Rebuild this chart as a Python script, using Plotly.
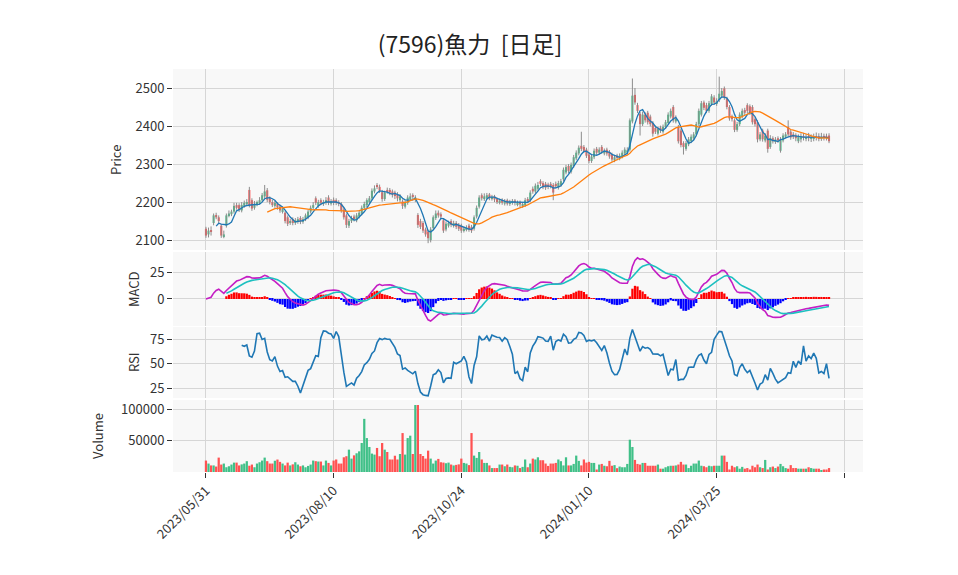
import numpy as np
import pandas as pd
import plotly.graph_objects as go
from plotly.subplots import make_subplots

title_text = "(7596)魚力\u00a0\u00a0[日足]"
tick_positions = [0, 50, 100, 150, 200, 250]
tick_labels = ["2023/05/31", "2023/08/10", "2023/10/24", "2024/01/10", "2024/03/25", ""]
panel_titles = ["Price", "MACD", "RSI", "Volume"]

opens = [
    2130, 2115, 2126, 2145, 2166, 2160, 2138, 2110, 2138, 2165,
    2168, 2175, 2192, 2192, 2178, 2190, 2195, 2232, 2205, 2185,
    2195, 2198, 2205, 2215, 2231, 2210, 2200, 2190, 2196, 2188,
    2174, 2172, 2160, 2145, 2155, 2145, 2148, 2158, 2148, 2155,
    2160, 2175, 2185, 2210, 2190, 2205, 2195, 2198, 2212, 2196,
    2206, 2205, 2200, 2195, 2180, 2165, 2138, 2150, 2162, 2152,
    2162, 2170, 2185, 2192, 2200, 2210, 2228, 2245, 2240, 2226,
    2208, 2232, 2232, 2228, 2225, 2220, 2205, 2202, 2188, 2198,
    2208, 2218, 2206, 2166, 2150, 2145, 2128, 2122, 2100, 2132,
    2158, 2172, 2168, 2152, 2128, 2138, 2150, 2138, 2145, 2140,
    2138, 2125, 2128, 2138, 2135, 2130, 2162, 2188, 2218, 2208,
    2210, 2220, 2208, 2215, 2208, 2198, 2206, 2196, 2205, 2195,
    2198, 2204, 2194, 2200, 2190, 2192, 2208, 2205, 2235, 2228,
    2235, 2255, 2250, 2248, 2246, 2248, 2245, 2248, 2238, 2245,
    2260, 2278, 2295, 2280, 2295, 2315, 2328, 2348, 2345, 2338,
    2325, 2308, 2318, 2340, 2330, 2345, 2328, 2338, 2332, 2325,
    2310, 2322, 2315, 2320, 2328, 2330, 2338, 2412, 2482, 2455,
    2432, 2405, 2430, 2435, 2425, 2408, 2395, 2380, 2396, 2385,
    2398, 2408, 2425, 2450, 2412, 2398, 2388, 2355, 2340, 2352,
    2360, 2368, 2378, 2405, 2430, 2462, 2455, 2440, 2458, 2475,
    2458, 2468, 2480, 2499, 2472, 2450, 2425, 2415, 2390, 2405,
    2425, 2442, 2455, 2452, 2450, 2418, 2410, 2365, 2388, 2362,
    2388, 2345, 2368, 2358, 2368, 2335, 2362, 2372, 2398, 2385,
    2378, 2375, 2360, 2365, 2374, 2368, 2374, 2366, 2368, 2373,
    2373, 2367, 2374, 2374, 2375,
]
highs = [
    2135, 2133, 2136, 2170, 2172, 2165, 2142, 2125, 2170, 2178,
    2180, 2198, 2198, 2197, 2200, 2204, 2208, 2240, 2210, 2203,
    2204, 2213, 2224, 2245, 2237, 2215, 2206, 2203, 2200, 2193,
    2188, 2176, 2165, 2156, 2160, 2158, 2161, 2163, 2161, 2170,
    2180, 2191, 2200, 2215, 2206, 2210, 2206, 2213, 2218, 2208,
    2212, 2210, 2205, 2200, 2185, 2170, 2156, 2164, 2167, 2171,
    2178, 2191, 2201, 2210, 2216, 2236, 2244, 2250, 2246, 2232,
    2230, 2238, 2237, 2233, 2230, 2226, 2221, 2207, 2204, 2218,
    2223, 2223, 2218, 2171, 2156, 2150, 2133, 2127, 2134, 2165,
    2178, 2178, 2173, 2157, 2149, 2151, 2155, 2151, 2150, 2145,
    2143, 2136, 2139, 2143, 2140, 2165, 2191, 2218, 2223, 2223,
    2224, 2224, 2219, 2219, 2212, 2209, 2210, 2208, 2209, 2206,
    2208, 2208, 2204, 2204, 2200, 2211, 2213, 2231, 2241, 2249,
    2253, 2260, 2255, 2253, 2251, 2253, 2250, 2254, 2256, 2261,
    2291, 2298, 2300, 2304, 2324, 2336, 2349, 2385, 2350, 2343,
    2330, 2326, 2341, 2345, 2344, 2350, 2341, 2343, 2337, 2330,
    2324, 2327, 2328, 2336, 2344, 2344, 2420, 2525, 2500, 2461,
    2437, 2438, 2436, 2440, 2430, 2413, 2401, 2398, 2401, 2404,
    2416, 2436, 2446, 2455, 2428, 2403, 2393, 2360, 2361, 2371,
    2378, 2384, 2411, 2446, 2466, 2467, 2461, 2466, 2484, 2481,
    2473, 2530, 2500, 2504, 2477, 2455, 2430, 2420, 2411, 2436,
    2446, 2448, 2460, 2457, 2455, 2423, 2415, 2384, 2393, 2381,
    2393, 2376, 2373, 2371, 2373, 2371, 2381, 2384, 2415, 2390,
    2384, 2381, 2378, 2381, 2382, 2379, 2382, 2378, 2380, 2383,
    2381, 2382, 2380, 2380, 2381,
]
lows = [
    2106, 2107, 2112, 2139, 2155, 2144, 2106, 2105, 2133, 2160,
    2163, 2170, 2180, 2174, 2173, 2185, 2190, 2186, 2177, 2180,
    2189, 2193, 2200, 2210, 2200, 2194, 2187, 2185, 2180, 2172,
    2170, 2144, 2137, 2140, 2139, 2140, 2143, 2142, 2143, 2150,
    2155, 2170, 2180, 2192, 2185, 2192, 2190, 2193, 2192, 2191,
    2192, 2192, 2189, 2172, 2154, 2132, 2132, 2145, 2149, 2147,
    2157, 2165, 2180, 2187, 2195, 2205, 2223, 2234, 2224, 2201,
    2203, 2222, 2218, 2212, 2208, 2202, 2200, 2182, 2183, 2193,
    2203, 2208, 2200, 2132, 2129, 2119, 2109, 2092, 2094, 2127,
    2153, 2159, 2156, 2119, 2123, 2133, 2134, 2133, 2129, 2124,
    2119, 2120, 2123, 2122, 2119, 2125, 2157, 2183, 2204, 2203,
    2206, 2205, 2204, 2200, 2195, 2194, 2193, 2191, 2191, 2190,
    2193, 2191, 2189, 2187, 2185, 2187, 2197, 2200, 2222, 2223,
    2230, 2242, 2234, 2232, 2234, 2236, 2205, 2236, 2233, 2240,
    2255, 2273, 2276, 2275, 2290, 2310, 2323, 2334, 2329, 2316,
    2302, 2303, 2313, 2324, 2325, 2327, 2323, 2322, 2314, 2306,
    2305, 2310, 2310, 2315, 2323, 2325, 2333, 2407, 2456, 2434,
    2375, 2400, 2409, 2404, 2399, 2372, 2379, 2375, 2382, 2380,
    2393, 2403, 2420, 2409, 2407, 2354, 2344, 2325, 2335, 2347,
    2355, 2363, 2373, 2400, 2425, 2442, 2434, 2435, 2453, 2456,
    2453, 2463, 2475, 2469, 2444, 2414, 2412, 2384, 2385, 2400,
    2420, 2429, 2434, 2429, 2404, 2399, 2357, 2360, 2359, 2357,
    2330, 2340, 2354, 2353, 2356, 2330, 2357, 2367, 2372, 2364,
    2366, 2360, 2355, 2357, 2362, 2360, 2360, 2358, 2360, 2362,
    2360, 2361, 2362, 2362, 2355,
]
closes = [
    2112, 2125, 2122, 2165, 2160, 2150, 2112, 2115, 2165, 2170,
    2175, 2190, 2185, 2180, 2192, 2198, 2200, 2192, 2183, 2195,
    2198, 2205, 2218, 2228, 2206, 2200, 2192, 2198, 2186, 2178,
    2182, 2150, 2143, 2150, 2145, 2152, 2155, 2148, 2155, 2165,
    2175, 2185, 2192, 2198, 2200, 2198, 2200, 2205, 2198, 2202,
    2198, 2198, 2195, 2178, 2160, 2140, 2150, 2158, 2155, 2165,
    2172, 2185, 2195, 2205, 2210, 2230, 2236, 2240, 2230, 2208,
    2225, 2228, 2225, 2220, 2216, 2210, 2215, 2190, 2198, 2212,
    2215, 2214, 2212, 2140, 2135, 2125, 2115, 2105, 2128, 2160,
    2170, 2165, 2162, 2125, 2143, 2145, 2140, 2145, 2135, 2130,
    2125, 2130, 2133, 2128, 2125, 2160, 2185, 2212, 2210, 2215,
    2218, 2210, 2214, 2207, 2200, 2204, 2198, 2203, 2196, 2200,
    2203, 2198, 2199, 2194, 2195, 2205, 2203, 2225, 2228, 2243,
    2245, 2248, 2240, 2238, 2240, 2242, 2225, 2242, 2250, 2255,
    2285, 2292, 2282, 2298, 2318, 2330, 2343, 2340, 2335, 2322,
    2308, 2320, 2335, 2330, 2338, 2333, 2335, 2328, 2320, 2312,
    2318, 2316, 2322, 2330, 2338, 2336, 2415, 2480, 2462, 2440,
    2405, 2430, 2415, 2410, 2405, 2380, 2385, 2392, 2388, 2398,
    2410, 2430, 2440, 2415, 2420, 2360, 2350, 2345, 2355, 2365,
    2372, 2378, 2405, 2440, 2460, 2448, 2440, 2460, 2478, 2462,
    2465, 2485, 2492, 2475, 2450, 2420, 2418, 2390, 2405, 2430,
    2440, 2435, 2440, 2435, 2410, 2405, 2365, 2378, 2365, 2375,
    2340, 2368, 2360, 2365, 2362, 2365, 2375, 2378, 2378, 2370,
    2372, 2368, 2372, 2373, 2370, 2371, 2368, 2370, 2372, 2370,
    2368, 2372, 2370, 2370, 2360,
]
volumes = [
    18250, 13500, 10500, 10500, 8700, 23000, 11900, 13500, 7600, 9200,
    11900, 15000, 15000, 10500, 12200, 13500, 17300, 10000, 11900, 7600,
    13500, 15600, 18250, 23000, 17300, 13500, 13500, 18000, 19900, 16200,
    13500, 10500, 15000, 10500, 12200, 15600, 11900, 9200, 10500, 7600,
    9700, 11900, 18250, 17300, 16700, 16700, 10500, 18250, 14500, 10500,
    18250, 20000, 13500, 13500, 23500, 25200, 35700, 21400, 26600, 29900,
    33000, 46300, 84900, 54200, 40000, 29400, 27800, 38400, 25200, 46300,
    35700, 32000, 20000, 20000, 26000, 20000, 28800, 62200, 27800, 54200,
    58000, 28800, 107000, 107000, 28800, 25600, 21400, 34100, 21400, 13500,
    18250, 20900, 15600, 15000, 14000, 15000, 11900, 10500, 11400, 12200,
    21400, 14500, 13500, 11000, 62200, 26200, 22500, 32000, 20000, 14500,
    14500, 10500, 6300, 6300, 6300, 11900, 11900, 9200, 11900, 8200,
    7600, 10500, 10000, 6300, 8200, 20000, 7600, 13500, 21400, 20000,
    23500, 18800, 18800, 13500, 9700, 13500, 13500, 14500, 20000, 17300,
    10500, 23500, 10500, 10500, 12900, 26200, 17800, 10500, 20000, 15000,
    16200, 14500, 14500, 4000, 11900, 12900, 10000, 9200, 17800, 10000,
    11000, 6100, 8700, 7600, 7600, 12900, 51600, 40000, 19300, 12900,
    11900, 14500, 14500, 10000, 10000, 10000, 10000, 11900, 5300, 5300,
    7600, 9200, 10000, 10000, 10500, 11900, 16200, 11900, 11900, 6300,
    10000, 13500, 13500, 18250, 10000, 9200, 7600, 10000, 9200, 10000,
    10000, 10000, 26200, 26200, 16200, 4000, 10000, 7600, 9200, 5300,
    8200, 5300, 6300, 4000, 10000, 7600, 11900, 7600, 6300, 19300,
    4000, 7600, 8700, 6300, 8700, 12900, 9200, 6300, 5300, 11000,
    6300, 6300, 5300, 5300, 5300, 5300, 7600, 6300, 5300, 5300,
    5300, 2700, 4000, 4000, 6300,
]

UP = "#40c088"
DOWN = "#ff5252"
WICK = "#8c8c8c"
GRID = "#d6d6d6"
TXT = "#333333"
FONT = "Noto Sans CJK JP"

n = len(closes)
xi = np.arange(n)
c = pd.Series(closes, dtype=float)
ma5 = c.rolling(5).mean()
ma25 = c.rolling(25).mean()
ema12 = c.ewm(span=12, adjust=False).mean()
ema26 = c.ewm(span=26, adjust=False).mean()
macd = ema12 - ema26
signal = macd.ewm(span=9, adjust=False, min_periods=9).mean()
hist = macd - signal
delta = c.diff()
gain = delta.clip(lower=0).rolling(14).mean()
loss = (-delta.clip(upper=0)).rolling(14).mean()
rsi = 100 - 100 / (1 + gain / loss)

candle_colors = [UP if cl >= op else DOWN for op, cl in zip(opens, closes)]
body_base = [min(op, cl) for op, cl in zip(opens, closes)]
body_len = [max(abs(cl - op), 1.2) for op, cl in zip(opens, closes)]
hist_colors = ["#ff0000" if (h >= 0) else "#0000ff" for h in hist.fillna(0)]

# wick segments (gray), drawn from the high/low lists
wx, wy = [], []
for i, (hi, lo) in enumerate(zip(highs, lows)):
    wx += [i, i, None]
    wy += [lo, hi, None]

fig = make_subplots(rows=4, cols=1, shared_xaxes=True, vertical_spacing=0.004)

fig.add_trace(go.Scatter(x=wx, y=wy, mode="lines", line=dict(color=WICK, width=1),
                         showlegend=False, hoverinfo="skip"), row=1, col=1)
fig.add_trace(go.Bar(x=xi, y=body_len, base=body_base, width=0.8,
                     marker=dict(color=candle_colors, line=dict(width=0)),
                     showlegend=False, hoverinfo="skip"), row=1, col=1)
fig.add_trace(go.Scatter(x=xi, y=ma5, mode="lines", line=dict(color="#1f77b4", width=1.3),
                         showlegend=False, hoverinfo="skip"), row=1, col=1)
fig.add_trace(go.Scatter(x=xi, y=ma25, mode="lines", line=dict(color="#ff7f0e", width=1.3),
                         showlegend=False, hoverinfo="skip"), row=1, col=1)

fig.add_trace(go.Bar(x=xi, y=hist, marker=dict(color=hist_colors, line=dict(width=0)),
                     showlegend=False, hoverinfo="skip"), row=2, col=1)
fig.add_trace(go.Scatter(x=xi, y=macd, mode="lines", line=dict(color="#c41ec4", width=1.6),
                         showlegend=False, hoverinfo="skip"), row=2, col=1)
fig.add_trace(go.Scatter(x=xi, y=signal, mode="lines", line=dict(color="#1ec0c0", width=1.6),
                         showlegend=False, hoverinfo="skip"), row=2, col=1)

fig.add_trace(go.Scatter(x=xi, y=rsi, mode="lines", line=dict(color="#1f77b4", width=1.6),
                         showlegend=False, hoverinfo="skip"), row=3, col=1)

fig.add_trace(go.Bar(x=xi, y=volumes, marker=dict(color=candle_colors, line=dict(width=0)),
                     showlegend=False, hoverinfo="skip"), row=4, col=1)

# pixel layout (page has an 8px body margin)
OFF = 8
P_LEFT, P_RIGHT = 173 - OFF, 863 - OFF
P_TOP, P_BOT = 69 - OFF, 472 - OFF
H = float(P_BOT - P_TOP)
W = float(P_RIGHT - P_LEFT)
def dom(top_px, bot_px):
    return [(P_BOT - (bot_px - OFF)) / H, (P_BOT - (top_px - OFF)) / H]

fig.update_layout(
    width=958, height=575,
    margin=dict(l=P_LEFT, r=958 - P_RIGHT, t=P_TOP, b=575 - P_BOT),
    paper_bgcolor="white", plot_bgcolor="#f8f8f8",
    font=dict(family=FONT, size=13, color=TXT),
    title=dict(text=title_text, x=(470 - OFF) / 958, xanchor="center", y=1 - (45 - OFF) / 575,
               yanchor="middle", yref="container",
               font=dict(family=FONT, size=23, color="#222222")),
    bargap=0.12,
    showlegend=False,
)

# y-axis titles placed as rotated annotations
title_px = [(115, 160), (133, 289), (133, 362), (97, 436)]
for txt, (px, py) in zip(panel_titles, title_px):
    fig.add_annotation(text=txt, xref="paper", yref="paper",
                       x=(px - OFF - P_LEFT) / W, y=(P_BOT - (py - OFF)) / H,
                       xanchor="center", yanchor="middle", textangle=-90, showarrow=False,
                       font=dict(family=FONT, size=13, color=TXT))

for r in range(1, 5):
    fig.update_xaxes(row=r, col=1, range=[-12.9, 257.3], tickvals=tick_positions, ticktext=tick_labels,
                     showgrid=True, gridcolor=GRID, gridwidth=1, zeroline=False, showline=False,
                     rangeslider=dict(visible=False))
for r in range(1, 4):
    fig.update_xaxes(row=r, col=1, showticklabels=False, ticks="")
fig.update_xaxes(row=4, col=1, showticklabels=True, ticks="outside", ticklen=5, tickcolor=TXT,
                 tickangle=-45, tickfont=dict(size=13, color=TXT))

yaxis_common = dict(showgrid=True, gridcolor=GRID, gridwidth=1, zeroline=False, showline=False,
                    ticks="outside", ticklen=5, tickcolor=TXT, tickfont=dict(size=13, color=TXT))
fig.update_yaxes(row=1, col=1, domain=dom(69, 250), range=[2074, 2550],
                 tickvals=[2100, 2200, 2300, 2400, 2500], **yaxis_common)
fig.update_yaxes(row=2, col=1, domain=dom(252, 326), range=[-25.3, 44],
                 tickvals=[0, 25], **yaxis_common)
fig.update_yaxes(row=3, col=1, domain=dom(327, 398), range=[15, 87.5],
                 tickvals=[25, 50, 75], **yaxis_common)
fig.update_yaxes(row=4, col=1, domain=dom(400, 472), range=[0, 115000],
                 tickvals=[50000, 100000], ticktext=["50000", "100000"], **yaxis_common)

fig.write_html("out.html")
